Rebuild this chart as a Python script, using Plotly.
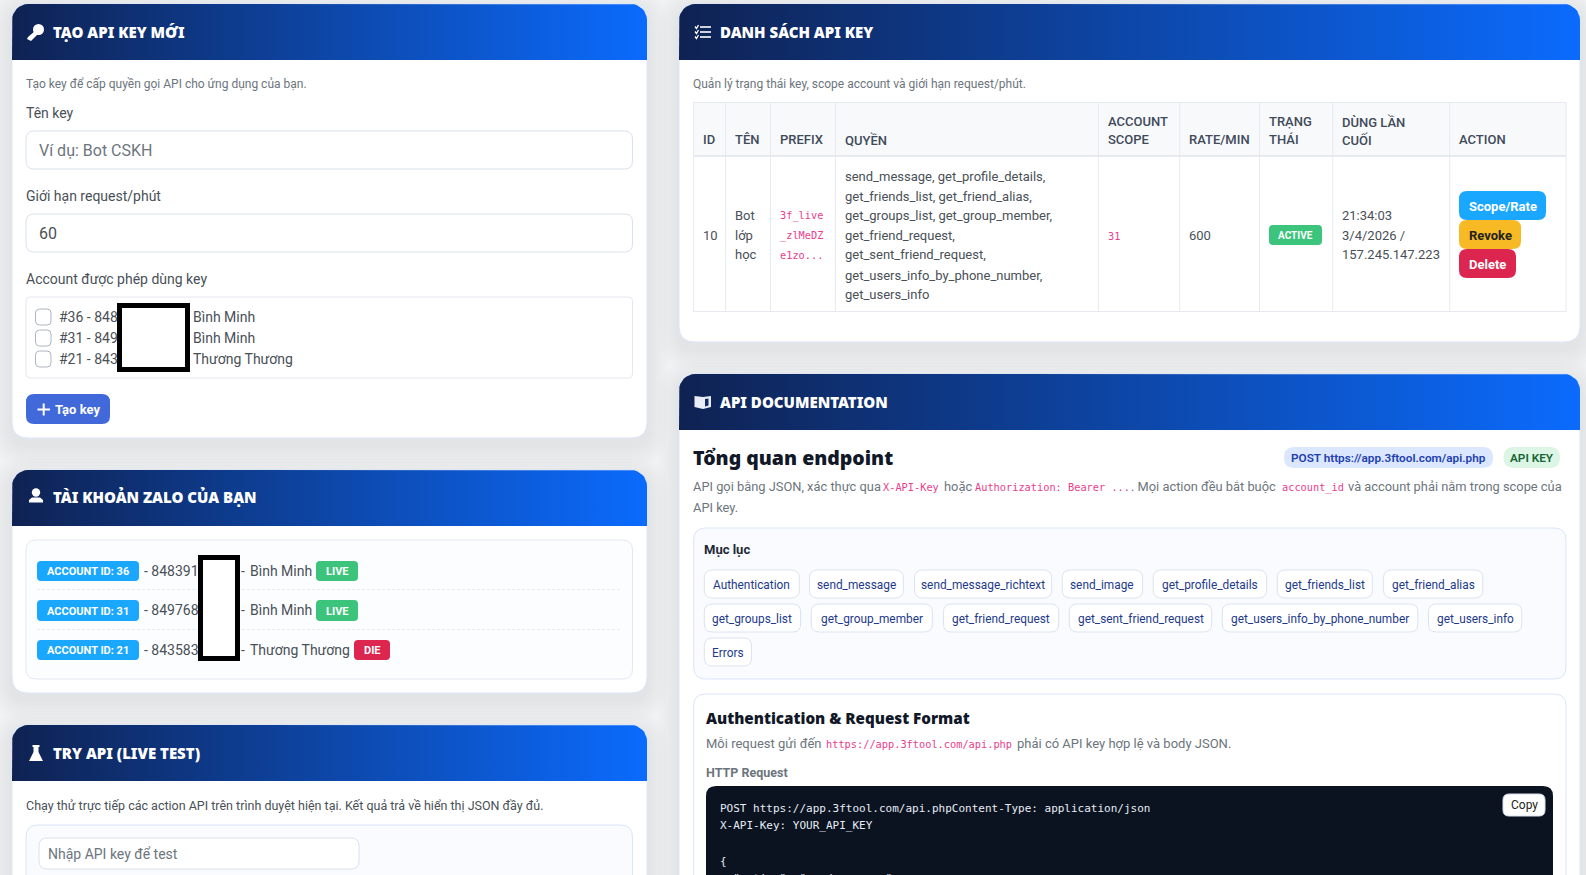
import math
import plotly.graph_objects as go

# ---- texts ----
card_titles = ["TẠO API KEY MỚI", "TÀI KHOẢN ZALO CỦA BẠN", "TRY API (LIVE TEST)", "DANH SÁCH API KEY", "API DOCUMENTATION"]
form_labels = ["Tên key", "Giới hạn request/phút", "Account được phép dùng key"]
form_hint = "Tạo key để cấp quyền gọi API cho ứng dụng của bạn."
form_placeholder = "Ví dụ: Bot CSKH"
form_rate = "60"
check_left = ["#36 - 848", "#31 - 849", "#21 - 843"]
check_right = ["Bình Minh", "Bình Minh", "Thương Thương"]
account_ids = ["ACCOUNT ID: 36", "ACCOUNT ID: 31", "ACCOUNT ID: 21"]
account_phones = ["- 848391", "- 849768", "- 843583"]
account_names = ["Bình Minh", "Bình Minh", "Thương Thương"]
account_status = ["LIVE", "LIVE", "DIE"]
try_hint = "Chạy thử trực tiếp các action API trên trình duyệt hiện tại. Kết quả trả về hiển thị JSON đầy đủ."
try_placeholder = "Nhập API key để test"

list_hint = "Quản lý trạng thái key, scope account và giới hạn request/phút."
table_headers = [["ID"], ["TÊN"], ["PREFIX"], ["QUYỀN"], ["ACCOUNT", "SCOPE"], ["RATE/MIN"], ["TRẠNG", "THÁI"], ["DÙNG LẦN", "CUỐI"], ["ACTION"]]
row_id = "10"
row_name = ["Bot", "lớp", "học"]
row_prefix = ["3f_live", "_zlMeDZ", "e1zo..."]
row_perms = ["send_message, get_profile_details,", "get_friends_list, get_friend_alias,", "get_groups_list, get_group_member,",
             "get_friend_request,", "get_sent_friend_request,", "get_users_info_by_phone_number,", "get_users_info"]
row_scope = "31"
row_rate = "600"
row_state = "ACTIVE"
row_last = ["21:34:03", "3/4/2026 /", "157.245.147.223"]
row_actions = ["Scope/Rate", "Revoke", "Delete"]

doc_title = "Tổng quan endpoint"
doc_pills = ["POST https://app.3ftool.com/api.php", "API KEY"]
doc_line1 = ["API gọi bằng JSON, xác thực qua", "X-API-Key", "hoặc", "Authorization: Bearer ...", ". Mọi action đều bắt buộc", "account_id", "và account phải nằm trong scope của"]
doc_line2 = "API key."
toc_title = "Mục lục"
toc_rows = [["Authentication", "send_message", "send_message_richtext", "send_image", "get_profile_details", "get_friends_list", "get_friend_alias"],
            ["get_groups_list", "get_group_member", "get_friend_request", "get_sent_friend_request", "get_users_info_by_phone_number", "get_users_info"],
            ["Errors"]]
auth_title = "Authentication & Request Format"
auth_line = ["Mỗi request gửi đến", "https://app.3ftool.com/api.php", "phải có API key hợp lệ và body JSON."]
http_label = "HTTP Request"
code_lines = ["POST https://app.3ftool.com/api.phpContent-Type: application/json", "X-API-Key: YOUR_API_KEY", "", "{", '  "action": "send_message",']

# ---- look ----
W, H = 1586, 875
PAGE_H = H + 25  # the code block runs past the bottom of the window
SANS = "Roboto"
HEAD = "Noto Sans"
MONO = "DejaVu Sans Mono"
BG = "#f0f2f4"
BORDER = "#dbe5fb"
INK = "#495057"
MUTED = "#6c757d"
PINK = "#e83e8c"
SKY = "#1aa7ff"
GREEN = "#3cc47c"
RED = "#dc2650"
AMBER = "#f7b924"

shapes = []
notes = []
traces = []


def rrect(x0, y0, x1, y1, r, fill="rgba(0,0,0,0)", line="rgba(0,0,0,0)", lw=1, layer="above", opacity=1):
    p = (f"M{x0+r},{y0} L{x1-r},{y0} Q{x1},{y0} {x1},{y0+r} L{x1},{y1-r} Q{x1},{y1} {x1-r},{y1} "
         f"L{x0+r},{y1} Q{x0},{y1} {x0},{y1-r} L{x0},{y0+r} Q{x0},{y0} {x0+r},{y0} Z")
    shapes.append(dict(type="path", path=p, fillcolor=fill, line=dict(color=line, width=lw), layer=layer, opacity=opacity))


def hline(x0, x1, y, color, lw=1, dash="solid"):
    shapes.append(dict(type="line", x0=x0, x1=x1, y0=y, y1=y, line=dict(color=color, width=lw, dash=dash), layer="above"))


def vline(x, y0, y1, color, lw=1):
    shapes.append(dict(type="line", x0=x, x1=x, y0=y0, y1=y1, line=dict(color=color, width=lw), layer="above"))


def poly(pts, fill="#ffffff"):
    p = "M" + " L".join(f"{a},{b}" for a, b in pts) + " Z"
    shapes.append(dict(type="path", path=p, fillcolor=fill, line=dict(width=0), layer="above"))


def dot(cx, cy, r, fill="#ffffff"):
    shapes.append(dict(type="circle", x0=cx-r, x1=cx+r, y0=cy-r, y1=cy+r, fillcolor=fill, line=dict(width=0), layer="above"))


def text(x, y, s, size=14, color=INK, weight=400, family=SANS, anchor="left"):
    notes.append(dict(x=x, y=y, xref="x", yref="y", text=s, showarrow=False, xanchor=anchor, yanchor="middle",
                      borderpad=0, borderwidth=0, font=dict(family=family, size=size, color=color, weight=weight)))


def header_band(x0, x1, y0, y1, r=16):
    # rounded on top only, filled left to right
    xs, ys = [x0], [y1]
    for i in range(9):
        a = math.pi * (1 + i / 16)
        xs.append(x0 + r + r * math.cos(a))
        ys.append(y0 + r + r * math.sin(a))
    for i in range(9):
        a = math.pi * (1.5 + i / 16)
        xs.append(x1 - r + r * math.cos(a))
        ys.append(y0 + r + r * math.sin(a))
    xs += [x1, x0]
    ys += [y1, y1]
    traces.append(go.Scatter(x=xs, y=ys, mode="lines", line=dict(width=0), fill="toself", hoverinfo="skip", showlegend=False,
                             fillgradient=dict(type="horizontal", colorscale=[[0, "#0f2252"], [1, "#0b6bfd"]])))


def card(x0, y0, x1, y1, title, title_y):
    for i in range(7):
        g = 3 + i * 3
        rrect(x0 - g, y0 + 7 - g, x1 + g, y1 + 7 + g, 16 + g, fill="rgba(0,0,0,0.006)", layer="below")
    rrect(x0, y0, x1, y1, 16, fill="#ffffff", line=BORDER, layer="below")
    header_band(x0, x1, y0, y0 + 56)
    text(x0 + 41, title_y, title, 15, "#ffffff", 900, HEAD)


def redact(x0, y0, x1, y1):
    shapes.append(dict(type="rect", x0=x0 + 2.5, x1=x1 - 2.5, y0=y0 + 2.5, y1=y1 - 2.5, fillcolor="#ffffff",
                       line=dict(color="#000000", width=5), layer="above"))


def badge(x0, y0, x1, y1, s, fill, size=11, color="#ffffff", r=4):
    rrect(x0, y0, x1, y1, r, fill=fill)
    text((x0 + x1) / 2, (y0 + y1) / 2 + 0.5, s, size, color, 700, anchor="center")


# ---- left column ----
card(12, 4, 647, 438, card_titles[0], 32)
text(26, 84, form_hint, 12, MUTED)
text(26, 113, form_labels[0], 14)
rrect(26, 131, 632.5, 169, 8, fill="#ffffff", line="#d9e0ee")
text(39, 150.5, form_placeholder, 16, MUTED)
text(26, 196.3, form_labels[1], 14)
rrect(26, 214, 632.5, 252, 8, fill="#ffffff", line="#d9e0ee")
text(39, 233.5, form_rate, 16, INK)
text(26, 279, form_labels[2], 14)
rrect(26, 297, 632.5, 378, 4, fill="#ffffff", line="#e3e7ef")
for i, yc in enumerate([317, 338, 359]):
    rrect(35.5, yc - 8, 51, yc + 8, 4, fill="#ffffff", line="#aeb5bf")
    text(59, yc, check_left[i], 14)
    text(193, yc, check_right[i], 14)
redact(117, 303, 190, 372)
rrect(26, 394, 110, 424, 8, fill="#4169d9")
hline(37.5, 50, 409.5, "#ffffff", 2)
vline(43.7, 403.5, 415.5, "#ffffff", 2)
text(55, 409.5, "Tạo key", 13, "#ffffff", 700)

card(12, 470, 647, 693, card_titles[1], 497)
rrect(26, 540, 632.5, 679, 10, fill="#fcfdff", line="#e3e7ef")
hline(37, 622, 589.5, "#e8ebf0", 1, "3px,2px")
hline(37, 622, 629.5, "#e8ebf0", 1, "3px,2px")
rows_y = [(561, 581), (600, 621), (640, 660)]
status_x = [(316, 358), (316, 358), (354, 390)]
for i, (a, b) in enumerate(rows_y):
    badge(37, a, 139, b, account_ids[i], SKY)
    text(143.5, (a + b) / 2 - 0.5, account_phones[i], 14)
    text(241, (a + b) / 2 - 0.5, "-", 14)
    text(250, (a + b) / 2 - 0.5, account_names[i], 14)
    badge(status_x[i][0], a, status_x[i][1], b, account_status[i], RED if account_status[i] == "DIE" else GREEN)
redact(198, 555, 240, 661)

card(12, 725, 647, 920, card_titles[2], 753)
text(26, 805, try_hint, 12.5, INK)
rrect(26, 825, 632.5, 920, 12, fill="#f9fbff", line=BORDER)
rrect(39, 838, 359, 869, 8, fill="#ffffff", line="#d9e0ee")
text(48, 854, try_placeholder, 14, MUTED)

# icons in the card headers
dot(38.5, 29.5, 5.5)
poly([(35, 31), (38, 34), (31, 41), (27, 39), (28, 37)])
dot(36, 492.5, 4.2)
poly([(29, 502.5), (29, 500), (32, 497.5), (40, 497.5), (43, 500), (43, 502.5)])
poly([(32.5, 745), (39.5, 745), (39.5, 747), (38.5, 747), (38.5, 752), (43, 761), (29, 761), (33.5, 752), (33.5, 747), (32.5, 747)])
for yy in [27, 32, 37]:
    hline(700, 711, yy, "#ffffff", 1.6)
    shapes.append(dict(type="path", path=f"M695,{yy-0.5} L696.5,{yy+1.5} L698.5,{yy-2}", line=dict(color="#ffffff", width=1.3), layer="above"))
poly([(694.5, 396), (703, 397), (711, 396), (711, 407), (703, 409), (694.5, 407)], "#e9edf5")
poly([(705, 399), (708.5, 398.5), (708.5, 405.5), (705, 406.5)], "#0f2a66")

# ---- right column: key list ----
card(679, 4, 1580, 342, card_titles[3], 32)
text(692.5, 84, list_hint, 12, MUTED)

col_edges = [693.7, 725.6, 770.5, 835.4, 1098.3, 1179.8, 1259.5, 1332.8, 1449.7, 1566]
shapes.append(dict(type="rect", x0=col_edges[0], x1=col_edges[-1], y0=102, y1=156, fillcolor="#f8f9fb", line=dict(width=0), layer="above"))
hline(col_edges[0], col_edges[-1], 102.5, "#e6e9ef")
hline(col_edges[0], col_edges[-1], 156, "#dfe3ec", 1.5)
hline(col_edges[0], col_edges[-1], 311.5, "#e6e9ef")
for e in col_edges:
    vline(e, 102, 312, "#e6e9ef")
for i, lines in enumerate(table_headers):
    tx = col_edges[i] + 9.5
    if len(lines) == 1:
        text(tx, 139.5, lines[0], 13, "#3f4a5a", 500)
    else:
        text(tx, 121.5, lines[0], 13, "#3f4a5a", 500)
        text(tx, 139.5, lines[1], 13, "#3f4a5a", 500)
mid_y = [215.5, 235.5, 254.5]
text(703, mid_y[1], row_id, 13)
for i, yy in enumerate(mid_y):
    text(735, yy, row_name[i], 13)
    text(780, yy, row_prefix[i], 10.3, PINK, family=MONO)
    text(1342, yy, row_last[i], 13)
for yy, s in zip([176.5, 196.5, 215.5, 235.5, 254.5, 275, 294], row_perms):
    text(845, yy, s, 13)
text(1108, mid_y[1], row_scope, 10.3, PINK, family=MONO)
text(1188.6, mid_y[1], row_rate, 13)
badge(1269, 225, 1322, 245, row_state, GREEN, 10)
badge(1459, 191, 1546, 220, row_actions[0], SKY, 13, r=8)
badge(1459, 220, 1521, 249, row_actions[1], AMBER, 13, "#222222", r=8)
badge(1459, 249, 1516, 278, row_actions[2], RED, 13, r=8)

# ---- right column: documentation ----
card(679, 374, 1580, 920, card_titles[4], 402)
text(692.5, 457.5, doc_title, 19.5, "#111827", 900, HEAD)
rrect(1284, 447, 1493, 468, 10.5, fill="#dbe7ff")
text(1388.5, 458, doc_pills[0], 11.75, "#1e40af", 600, anchor="center")
rrect(1503.5, 447, 1560, 468, 10.5, fill="#dcf5e4")
text(1531.7, 458, doc_pills[1], 11.75, "#166534", 600, anchor="center")
text(692.5, 486.5, doc_line1[0], 12.85, MUTED)
text(883, 487, doc_line1[1], 10.3, PINK, family=MONO)
text(944, 486.5, doc_line1[2], 12.85, MUTED)
text(975, 487, doc_line1[3], 10.3, PINK, family=MONO)
text(1131, 486.5, doc_line1[4], 12.85, MUTED)
text(1282, 487, doc_line1[5], 10.3, PINK, family=MONO)
text(1348, 486.5, doc_line1[6], 12.85, MUTED)
text(692.5, 507.5, doc_line2, 12.85, MUTED)

rrect(693.7, 528, 1566, 679, 12, fill="#f9fbff", line=BORDER)
text(704, 549, toc_title, 13, "#1f2937", 700)
toc_x = [[(75, 236), (253, 412), (431, 663), (681, 817), (835, 1027), (1045, 1206), (1225, 1393)],
         [(75, 238), (256, 461), (480, 675), (693, 934), (952, 1283), (1301, 1459)],
         [(75, 155)]]
toc_y = [(570, 598), (604, 632), (638, 666)]
for r, labels in enumerate(toc_rows):
    for c, label in enumerate(labels):
        a = 660 + toc_x[r][c][0] / 1.693
        b = 660 + toc_x[r][c][1] / 1.693
        rrect(a, toc_y[r][0], b, toc_y[r][1], 8, fill="#ffffff", line="#dbe3f2")
        text((a + b) / 2, sum(toc_y[r]) / 2 + 0.7, label, 11.85, "#1e3a8a", anchor="center")

rrect(693.7, 694, 1566, 920, 12, fill="#ffffff", line=BORDER)
text(706, 717.5, auth_title, 15.2, "#111827", 900, HEAD)
text(706, 743, auth_line[0], 13, MUTED)
text(826, 743.5, auth_line[1], 10.3, PINK, family=MONO)
text(1017, 743, auth_line[2], 13, MUTED)
text(706, 772, http_label, 12.5, MUTED, 700)
rrect(706, 786, 1553, 920, 10, fill="#0b1220")
for yy, s in zip([808, 825.7, 843.5, 861, 878.5], code_lines):
    if s:
        text(719.7, yy, s.replace(" ", "\u00a0"), 11, "#e8edf5", family=MONO)
rrect(1503, 794, 1545, 816, 6, fill="#ffffff", line="#d9e0ee")
text(1524, 805, "Copy", 12, "#222222", anchor="center")

fig = go.Figure(traces)
fig.update_layout(
    width=W, height=PAGE_H, margin=dict(l=0, r=0, t=0, b=0), paper_bgcolor=BG, plot_bgcolor=BG,
    xaxis=dict(range=[0, W], visible=False, fixedrange=True),
    yaxis=dict(range=[PAGE_H, 0], visible=False, fixedrange=True),
    showlegend=False, shapes=shapes, annotations=notes,
)
fig.write_html("out.html", config=dict(displayModeBar=False),
               post_script="document.body.style.margin='0';document.documentElement.style.overflow='hidden';")
